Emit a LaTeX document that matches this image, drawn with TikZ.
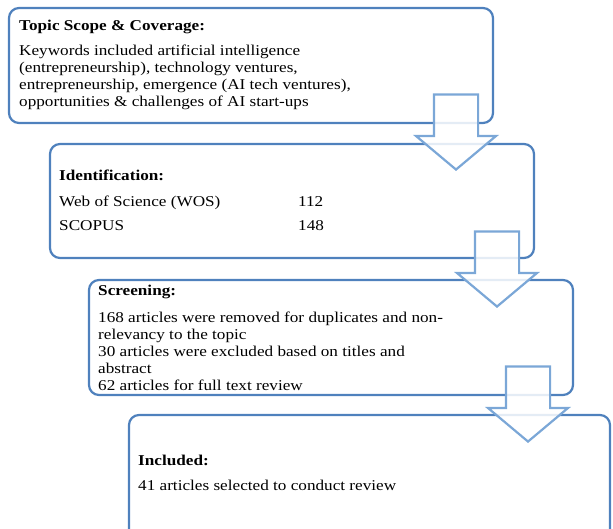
\documentclass[tikz,border=0pt]{standalone}
\usepackage{fontspec}
\setmainfont{Liberation Serif}[FakeStretch=1.145]
\usetikzlibrary{shapes.arrows}
\definecolor{BoxBlue}{HTML}{4F81BD}
\definecolor{ArrowBlue}{HTML}{7BA7D7}

\begin{document}
\begin{tikzpicture} [x=1pt,y=-1pt,
			every node/.style={font=\fontsize{15}{17}\selectfont},
			stage/.style={draw=BoxBlue,line width=2.2pt,rounded corners=10pt,inner sep=0pt,minimum width=484pt},
			head/.style={anchor=base west,inner sep=0pt,font=\fontsize{15}{17}\selectfont\bfseries},
			body/.style={anchor=base west,inner sep=0pt},
			para/.style={anchor=north west,inner sep=0pt,align=left},
			flow/.style={single arrow,draw=ArrowBlue,fill=white,fill opacity=0.85,line width=2.2pt,rotate=-90,inner xsep=0pt,inner ysep=21pt,minimum width=78pt,minimum height=75pt,single arrow head extend=18pt,single arrow tip angle=100}
		]
			\useasboundingbox (0,0) rectangle (613,529);
			\clip (0,0) rectangle (613,529);
			% stages
			\node at (251,65.5) [stage,minimum height=115pt] (scope) {};
			\node at (292,201) [stage,minimum height=114pt] (ident) {};
			\node at (331,337.5) [stage,minimum height=115pt] (screen) {};
			\node at (369.5,480) [stage,minimum width=481pt,minimum height=130pt] (incl) {};
			% texts
			\node at (19,31) [head] (scopehead) {Topic Scope \& Coverage:};
			\node at (19,44.8) [para] (scopetext) {Keywords included artificial intelligence\\(entrepreneurship), technology ventures,\\entrepreneurship, emergence (AI tech ventures),\\opportunities \& challenges of AI start-ups};
			\node at (59,181) [head] (identhead) {Identification:};
			\node at (59,207) [body] (wos) {Web of Science (WOS)};
			\node at (298,207) [body] (wosnum) {112};
			\node at (59,231) [body] (scopus) {SCOPUS};
			\node at (298,231) [body] (scopusnum) {148};
			\node at (98,296) [head] (screenhead) {Screening:};
			\node at (98,311.8) [para] (screentext) {168 articles were removed for duplicates and non-\\relevancy to the topic\\30 articles were excluded based on titles and\\abstract\\62 articles for full text review};
			\node at (138,465) [head] (inclhead) {Included:};
			\node at (138,490) [body] (incltext) {41 articles selected to conduct review};
			% arrows
			\node at (456,171) [flow,anchor=tip] (arr1) {};
			\node at (497,308) [flow,anchor=tip] (arr2) {};
			\node at (528,443) [flow,anchor=tip] (arr3) {};
		\end{tikzpicture}
\end{document}
